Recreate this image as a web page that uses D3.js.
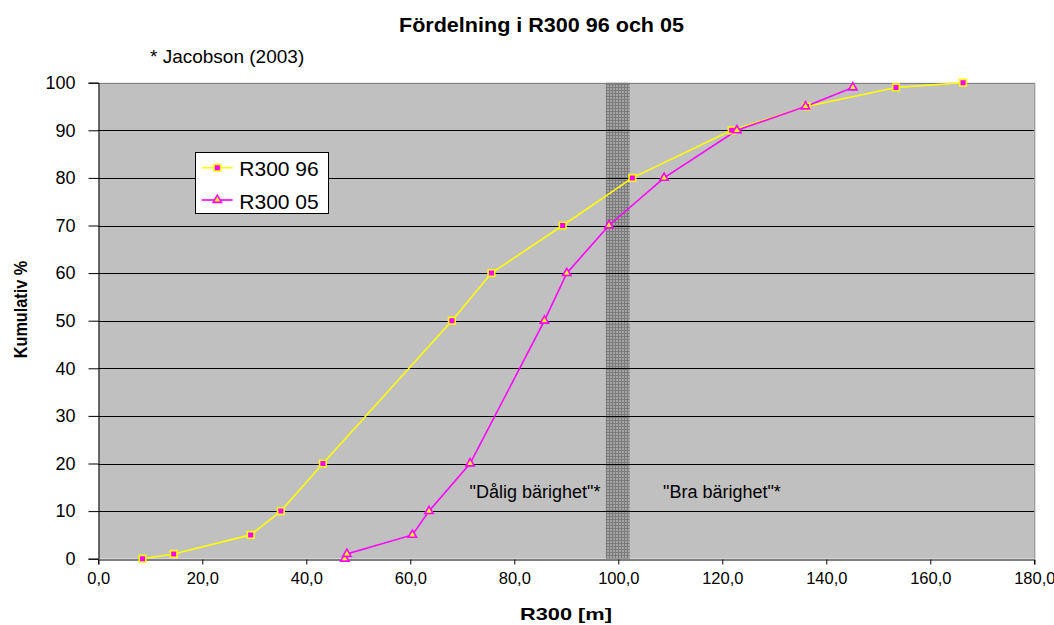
<!DOCTYPE html>
<html>
<head>
<meta charset="utf-8">
<script src="https://cdn.jsdelivr.net/npm/d3@7"></script>
<style>
html,body{margin:0;padding:0;background:#fff;}
text{font-family:"Liberation Sans",Arial,sans-serif;}
</style>
</head>
<body>
<svg id="chart" width="1054" height="625"></svg>
<script>
// ---- data ----
const series96X = [8.5, 14.5, 29.3, 35.1, 43.2, 68.0, 75.6, 89.3, 102.7, 121.8, 136.2, 153.4, 166.3];
const series96Y = [0, 1, 5, 10, 20, 50, 60, 70, 80, 90, 95, 99, 100];
const series05X = [47.4, 47.8, 60.4, 63.6, 71.5, 85.8, 90.1, 98.2, 108.8, 122.8, 136.0, 145.1];
const series05Y = [0, 1, 5, 10, 20, 50, 60, 70, 80, 90, 95, 99];
const seriesNames = ["R300 96", "R300 05"];
const xTicks = [0, 20, 40, 60, 80, 100, 120, 140, 160, 180];
const yTicks = [0, 10, 20, 30, 40, 50, 60, 70, 80, 90, 100];
const bandRange = [97.6, 102.2];
const titleText = "Fördelning i R300  96 och 05";
const noteText = "* Jacobson (2003)";
const xTitle = "R300 [m]";
const yTitle = "Kumulativ %";
const zoneLabels = ["\"Dålig bärighet\"*", "\"Bra bärighet\"*"];
const zoneLabelX = [71.4, 108.6];
const zoneLabelY = 12.7;

(function () {
// ---- layout ----
const svg = d3.select("#chart");
const pLeft = 98.3, pRight = 1034.3, pTop = 82.7, pBottom = 558.7;
const x = d3.scaleLinear().domain([0, 180]).range([pLeft, pRight]);
const y = d3.scaleLinear().domain([0, 100]).range([pBottom, pTop]);
const fmt = d => d.toFixed(1).replace(".", ",");

const defs = svg.append("defs");
const pat = defs.append("pattern").attr("id", "dots").attr("patternUnits", "userSpaceOnUse")
  .attr("width", 3).attr("height", 3);
pat.append("rect").attr("width", 3).attr("height", 3).attr("fill", "#a4a4a4");
pat.append("rect").attr("width", 3).attr("height", 1).attr("fill", "#7c7c7c");
pat.append("rect").attr("width", 1).attr("height", 3).attr("fill", "#7c7c7c");

// plot background
svg.append("rect").attr("x", pLeft).attr("y", pTop).attr("width", pRight - pLeft).attr("height", pBottom - pTop)
  .attr("fill", "#c0c0c0");

// band
svg.append("rect").attr("x", x(bandRange[0])).attr("y", pTop)
  .attr("width", x(bandRange[1]) - x(bandRange[0])).attr("height", pBottom - pTop)
  .attr("fill", "url(#dots)");

// gridlines
svg.append("g").selectAll("line").data(yTicks.filter(d => d > 0)).join("line")
  .attr("x1", pLeft).attr("x2", pRight)
  .attr("y1", d => Math.round(y(d)) + 0.5).attr("y2", d => Math.round(y(d)) + 0.5)
  .attr("stroke", d => d === 100 ? "#808080" : "#000").attr("stroke-width", 1);
// right border
svg.append("line").attr("x1", pRight + 0.5).attr("x2", pRight + 0.5).attr("y1", pTop).attr("y2", pBottom)
  .attr("stroke", "#808080");

// axes
const xAxis = d3.axisBottom(x).tickValues(xTicks).tickFormat(fmt).tickSize(5).tickPadding(8);
const gx = svg.append("g").attr("transform", `translate(0,${Math.round(pBottom) + 0.5})`).call(xAxis);
gx.select(".domain").attr("stroke", "#000");
gx.selectAll(".tick line").attr("stroke", "#000");
gx.selectAll("text").attr("font-size", 16.5).attr("fill", "#000")
  .attr("font-family", "'Liberation Sans',Arial,sans-serif");

const yAxis = d3.axisLeft(y).tickValues(yTicks).tickFormat(d3.format("d")).tickSize(10).tickPadding(13);
const gy = svg.append("g").attr("transform", `translate(${Math.round(pLeft) + 0.5},0)`).call(yAxis);
gy.select(".domain").attr("stroke", "#000");
gy.selectAll(".tick line").attr("stroke", "#000");
gy.selectAll("text").attr("font-size", 18).attr("fill", "#000")
  .attr("font-family", "'Liberation Sans',Arial,sans-serif");

// series
const d96 = series96X.map((v, i) => [v, series96Y[i]]);
const d05 = series05X.map((v, i) => [v, series05Y[i]]);
const line = d3.line().x(d => x(d[0])).y(d => y(d[1]));

svg.append("path").datum(d96).attr("d", line).attr("fill", "none").attr("stroke", "#ffff00").attr("stroke-width", 1.6);
svg.append("path").datum(d05).attr("d", line).attr("fill", "none").attr("stroke", "#ff00ff").attr("stroke-width", 1.6);

const sq = d3.symbol().type(d3.symbolSquare).size(44);
const tri = d3.symbol().type(d3.symbolTriangle).size(30);

svg.append("g").selectAll("path").data(d96).join("path")
  .attr("transform", d => `translate(${x(d[0])},${y(d[1])})`).attr("d", sq)
  .attr("fill", "#ff00ff").attr("stroke", "#ffff00").attr("stroke-width", 1.6);
svg.append("g").selectAll("path").data(d05).join("path")
  .attr("transform", d => `translate(${x(d[0])},${y(d[1])})`).attr("d", tri)
  .attr("fill", "#ffff00").attr("stroke", "#ff00ff").attr("stroke-width", 1.6);

// zone labels
svg.append("g").selectAll("text").data(zoneLabels).join("text")
  .attr("x", (d, i) => x(zoneLabelX[i])).attr("y", y(zoneLabelY))
  .attr("font-size", 18).attr("fill", "#000").text(d => d);

// titles
svg.append("text").attr("x", 399).attr("y", 32)
  .attr("font-size", 20).attr("font-weight", "bold")
  .attr("textLength", 285).attr("lengthAdjust", "spacingAndGlyphs").text(titleText);
svg.append("text").attr("x", 150).attr("y", 63).attr("font-size", 19).text(noteText);
svg.append("text").attr("x", 520).attr("y", 620)
  .attr("font-size", 17).attr("font-weight", "bold")
  .attr("textLength", 92).attr("lengthAdjust", "spacingAndGlyphs").text(xTitle);
svg.append("text").attr("transform", "translate(26.7,358.3) rotate(-90)")
  .attr("font-size", 17.5).attr("font-weight", "bold")
  .attr("textLength", 97.6).attr("lengthAdjust", "spacingAndGlyphs").text(yTitle);

// legend
const lg = svg.append("g");
lg.append("rect").attr("x", 195.5).attr("y", 152.5).attr("width", 133).attr("height", 61)
  .attr("fill", "#fff").attr("stroke", "#000");
const legY = [167.7, 200];
seriesNames.forEach((name, i) => {
  const col = i === 0 ? "#ffff00" : "#ff00ff";
  lg.append("line").attr("x1", 201.7).attr("x2", 232.7).attr("y1", legY[i]).attr("y2", legY[i])
    .attr("stroke", col).attr("stroke-width", 1.6);
  lg.append("path").attr("transform", `translate(217.3,${legY[i]})`)
    .attr("d", i === 0 ? sq : tri)
    .attr("fill", i === 0 ? "#ff00ff" : "#ffff00").attr("stroke", i === 0 ? "#ffff00" : "#ff00ff")
    .attr("stroke-width", 1.6);
  lg.append("text").attr("x", 239.3).attr("y", legY[i] + 8.5).attr("font-size", 21).text(name);
});
})();
</script>
</body>
</html>
